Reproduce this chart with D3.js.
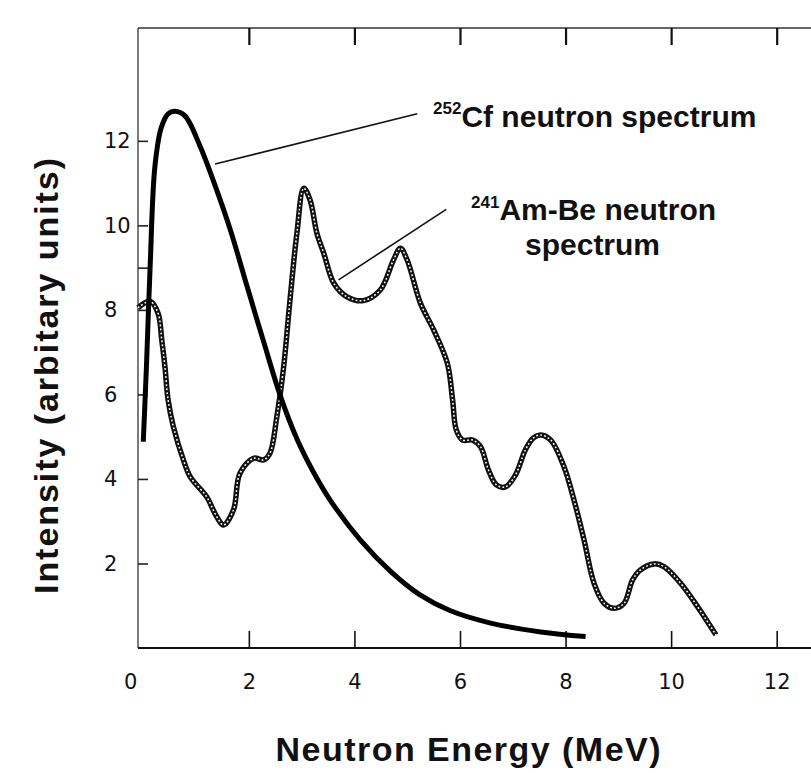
<!DOCTYPE html>
<html>
<head>
<meta charset="utf-8">
<script src="https://cdn.jsdelivr.net/npm/d3@7/dist/d3.min.js"></script>
<style>
  html, body { margin: 0; padding: 0; background: #fff; }
  svg { display: block; }
</style>
</head>
<body>
<svg id="chart" width="811" height="773"></svg>
<script>
// ---- data ----
const xTicks = [0, 2, 4, 6, 8, 10, 12];
const yTicks = [2, 4, 6, 8, 9, 10, 12];
const yTickLabels = ["2", "4", "6", "8", "", "10", "12"];

// 252Cf spectrum: energy (MeV) and intensity (arb. units)
const cfEnergy = [0.0, 0.06, 0.13, 0.22, 0.34, 0.47, 0.60, 0.79, 1.08, 1.32, 1.65, 1.97, 2.27, 2.59, 2.92, 3.22, 3.54, 4.11, 4.68, 5.25, 5.82, 6.58, 7.53, 8.38];
const cfIntensity = [4.88, 6.66, 9.03, 11.39, 12.31, 12.64, 12.70, 12.59, 11.86, 11.08, 9.89, 8.54, 7.29, 5.99, 4.92, 4.17, 3.50, 2.56, 1.82, 1.25, 0.88, 0.59, 0.38, 0.27];

// 241Am-Be spectrum
const amEnergy = [-0.1, 0.13, 0.28, 0.35, 0.41, 0.47, 0.57, 0.76, 0.89, 1.20, 1.39, 1.52, 1.71, 1.83, 2.09, 2.28, 2.40, 2.53, 2.66, 2.78, 2.91, 3.04, 3.16, 3.29, 3.42, 3.61, 3.86, 4.17, 4.49, 4.74, 4.87, 5.00, 5.25, 5.50, 5.76, 5.86, 5.93, 6.05, 6.24, 6.39, 6.54, 6.69, 6.86, 7.05, 7.24, 7.39, 7.53, 7.72, 7.97, 8.16, 8.35, 8.54, 8.73, 8.92, 9.11, 9.27, 9.42, 9.68, 9.87, 10.18, 10.50, 10.85];
const amIntensity = [8.05, 8.20, 7.92, 7.29, 6.66, 5.87, 5.24, 4.45, 4.05, 3.58, 3.11, 2.91, 3.27, 4.13, 4.49, 4.45, 4.61, 5.47, 6.66, 8.24, 9.81, 10.88, 10.60, 9.81, 9.34, 8.63, 8.31, 8.22, 8.47, 9.18, 9.46, 9.18, 8.16, 7.53, 6.74, 5.87, 5.16, 4.92, 4.92, 4.76, 4.21, 3.86, 3.81, 4.09, 4.69, 4.97, 5.04, 4.92, 4.29, 3.50, 2.56, 1.53, 1.06, 0.94, 1.06, 1.61, 1.85, 1.99, 1.92, 1.53, 0.98, 0.31];

const xTitle = "Neutron Energy (MeV)";
const yTitle = "Intensity (arbitary units)";

// ---- layout ----
const svg = d3.select("#chart");
const mLeft = 138, mRight = 811, mTop = 28, mBottom = 648;

const x = d3.scaleLinear().domain([-0.1, 12.65]).range([mLeft, mRight]);
const y = d3.scaleLinear().domain([0, 14.67]).range([mBottom, mTop]);

const tickFont = "'DejaVu Sans', sans-serif";
const boldFont = "'Liberation Sans', Arial, sans-serif";

// frame lines
svg.append("line").attr("x1", mLeft).attr("x2", mRight).attr("y1", mTop).attr("y2", mTop)
  .attr("stroke", "#333").attr("stroke-width", 1.6);
svg.append("line").attr("x1", mLeft).attr("x2", mLeft).attr("y1", mTop).attr("y2", mBottom)
  .attr("stroke", "#444").attr("stroke-width", 1.4);
svg.append("line").attr("x1", mLeft).attr("x2", mRight).attr("y1", mBottom).attr("y2", mBottom)
  .attr("stroke", "#111").attr("stroke-width", 2);

// bottom axis (ticks pointing up)
const xAxisB = d3.axisBottom(x).tickValues(xTicks).tickSizeInner(-17).tickSizeOuter(0).tickPadding(26)
  .tickFormat(d3.format("d"));
const gB = svg.append("g").attr("transform", `translate(0,${mBottom})`).call(xAxisB);
gB.select(".domain").remove();
gB.selectAll(".tick line").attr("stroke", "#111").attr("stroke-width", 1.6);
gB.selectAll(".tick text").attr("font-family", tickFont).attr("font-size", 21)
  .attr("fill", "#111").attr("dx", d => d === 0 ? -13 : 0);
gB.selectAll(".tick").filter(d => d === 0).select("line").remove();

// top axis (ticks pointing down)
const xAxisT = d3.axisTop(x).tickValues(xTicks.filter(d => d > 0)).tickSizeInner(-17).tickSizeOuter(0).tickFormat("");
const gT = svg.append("g").attr("transform", `translate(0,${mTop})`).call(xAxisT);
gT.select(".domain").remove();
gT.selectAll(".tick line").attr("stroke", "#111").attr("stroke-width", 2.2);

// left axis (ticks pointing right)
const yAxis = d3.axisLeft(y).tickValues(yTicks).tickSizeInner(-10).tickSizeOuter(0).tickPadding(0)
  .tickFormat((d, i) => yTickLabels[i]);
const gL = svg.append("g").attr("transform", `translate(${mLeft},0)`).call(yAxis);
gL.select(".domain").remove();
gL.selectAll(".tick line").attr("stroke", "#222").attr("stroke-width", 1.6);
gL.selectAll(".tick text").attr("font-family", tickFont).attr("font-size", 21)
  .attr("fill", "#111").attr("text-anchor", "start").attr("x", -34);

// curves
const line = d3.line().x(d => x(d[0])).y(d => y(d[1])).curve(d3.curveCatmullRom.alpha(0.5));
const cfData = cfEnergy.map((e, i) => [e, cfIntensity[i]]);
const amData = amEnergy.map((e, i) => [e, amIntensity[i]]);

svg.append("path").datum(amData).attr("d", line).attr("fill", "none")
  .attr("stroke", "#111").attr("stroke-width", 5.5).attr("stroke-linejoin", "round");
svg.append("path").datum(amData).attr("d", line).attr("fill", "none")
  .attr("stroke", "#fff").attr("stroke-width", 1.5).attr("stroke-dasharray", "1.8,2.2");

svg.append("path").datum(cfData).attr("d", line).attr("fill", "none")
  .attr("stroke", "#000").attr("stroke-width", 5).attr("stroke-linejoin", "round");

// leader lines
svg.append("line").attr("x1", x(1.36)).attr("y1", y(11.45)).attr("x2", x(5.19)).attr("y2", y(12.64))
  .attr("stroke", "#111").attr("stroke-width", 1.6);
svg.append("line").attr("x1", x(3.70)).attr("y1", y(8.71)).attr("x2", x(5.74)).attr("y2", y(10.38))
  .attr("stroke", "#111").attr("stroke-width", 1.6);

// annotations
const cfText = svg.append("text").attr("x", 433).attr("y", 127)
  .attr("font-family", boldFont).attr("font-weight", "bold").attr("font-size", 30).attr("fill", "#111");
cfText.append("tspan").attr("font-size", 17).attr("dy", -13).text("252");
cfText.append("tspan").attr("dy", 13).text("Cf neutron spectrum");

const amText = svg.append("text").attr("x", 471).attr("y", 220)
  .attr("font-family", boldFont).attr("font-weight", "bold").attr("font-size", 30).attr("fill", "#111");
amText.append("tspan").attr("font-size", 17).attr("dy", -12).text("241");
amText.append("tspan").attr("dy", 12).text("Am-Be neutron");
svg.append("text").attr("x", 525).attr("y", 255)
  .attr("font-family", boldFont).attr("font-weight", "bold").attr("font-size", 30).attr("fill", "#111")
  .text("spectrum");

// axis titles
svg.append("text").attr("x", 468).attr("y", 761).attr("text-anchor", "middle")
  .attr("font-family", boldFont).attr("font-weight", "bold").attr("font-size", 34).attr("fill", "#111")
  .attr("textLength", 385).attr("lengthAdjust", "spacing")
  .text(xTitle);
svg.append("text").attr("transform", "translate(58,376) rotate(-90)").attr("text-anchor", "middle")
  .attr("font-family", boldFont).attr("font-weight", "bold").attr("font-size", 34).attr("fill", "#111")
  .attr("textLength", 436).attr("lengthAdjust", "spacing")
  .text(yTitle);
</script>
</body>
</html>
